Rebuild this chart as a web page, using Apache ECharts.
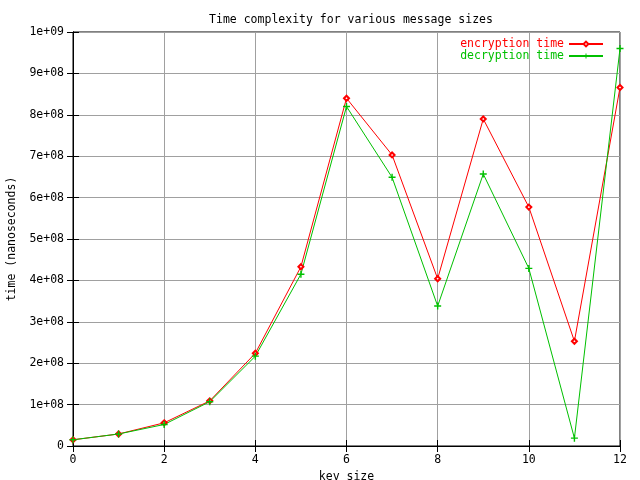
<!DOCTYPE html>
<html>
<head>
<meta charset="utf-8">
<script src="https://cdn.jsdelivr.net/npm/echarts@6/dist/echarts.min.js"></script>
<style>
  html, body { margin: 0; padding: 0; background: #fff; }
  #chart { width: 640px; height: 480px; }
</style>
</head>
<body>
<div id="chart"></div>
<script>
// ---- data ----
var keySizes       = [0, 1, 2, 3, 4, 5, 6, 7, 8, 9, 10, 11, 12];
var encryptionTime = [1.5e7, 2.9e7, 5.6e7, 1.09e8, 2.24e8, 4.33e8, 8.40e8, 7.03e8, 4.04e8, 7.90e8, 5.77e8, 2.53e8, 8.66e8];
var decryptionTime = [1.5e7, 2.9e7, 5.2e7, 1.07e8, 2.17e8, 4.15e8, 8.20e8, 6.49e8, 3.38e8, 6.57e8, 4.29e8, 1.9e7, 9.60e8];
var seriesNames    = ["encryption time", "decryption time"];

var FONT = "'DejaVu Sans Mono', monospace";
var PLUS = "path://M4,0h2v4h4v2h-4v4h-2v-4h-4v-2h4z";

function pairs(ys) {
  return keySizes.map(function (x, i) { return [x, ys[i]]; });
}

// gnuplot style tick labels: 0, 1e+08 ... 1e+09
function sciLabel(v) {
  if (v === 0) return "0";
  var e = Math.floor(Math.log10(v) + 1e-9);
  var m = Math.round(v / Math.pow(10, e));
  return m + "e+" + (e < 10 ? "0" + e : e);
}

var chart = echarts.init(document.getElementById("chart"));

var tickStyle = { show: true, inside: true, length: 6, lineStyle: { color: "#000" } };
var gridLine  = { show: true, lineStyle: { color: "#a0a0a0", width: 1 } };

chart.setOption({
  animation: false,
  backgroundColor: "#fff",
  title: {
    text: "Time complexity for various message sizes",
    left: 346, top: 9, textAlign: "center",
    textStyle: { fontFamily: FONT, fontSize: 11.5, fontWeight: "normal", color: "#000" }
  },
  legend: {
    orient: "vertical",
    right: 31, top: 33,
    align: "right",
    itemWidth: 34, itemHeight: 6, itemGap: 0,
    textStyle: { fontFamily: FONT, fontSize: 11.5, lineHeight: 11 },
    data: [
      { name: seriesNames[0], textStyle: { color: "#ff0000" } },
      { name: seriesNames[1], textStyle: { color: "#00c000" } }
    ]
  },
  grid: {
    left: 73, top: 32, width: 547, height: 414,
    outerBoundsMode: "none", containLabel: false,
    show: true, borderColor: "#000", borderWidth: 1
  },
  xAxis: [{
    type: "value", min: 0, max: 12, interval: 2,
    name: "key size", nameLocation: "middle", nameGap: 21,
    nameTextStyle: { fontFamily: FONT, fontSize: 11.5, color: "#000" },
    axisLine: { show: true, lineStyle: { color: "#000" } },
    axisTick: tickStyle,
    axisLabel: { fontFamily: FONT, fontSize: 11.5, color: "#000", margin: 8 },
    splitLine: gridLine
  }, {
    type: "value", min: 0, max: 12, interval: 2, position: "top",
    axisLine: { show: true, lineStyle: { color: "#000" } },
    axisTick: tickStyle, axisLabel: { show: false }, splitLine: { show: false }
  }],
  yAxis: [{
    type: "value", min: 0, max: 1e9, interval: 1e8,
    name: "time (nanoseconds)", nameLocation: "middle", nameGap: 54, nameRotate: 90,
    nameTextStyle: { fontFamily: FONT, fontSize: 11.5, color: "#000" },
    axisLine: { show: true, lineStyle: { color: "#000" } },
    axisTick: tickStyle,
    axisLabel: { fontFamily: FONT, fontSize: 11.5, color: "#000", margin: 9, formatter: sciLabel },
    splitLine: gridLine
  }, {
    type: "value", min: 0, max: 1e9, interval: 1e8, position: "right",
    axisLine: { show: true, lineStyle: { color: "#000" } },
    axisTick: tickStyle, axisLabel: { show: false }, splitLine: { show: false }
  }],
  series: [{
    name: seriesNames[0], type: "line",
    data: pairs(encryptionTime),
    symbol: "emptyDiamond", symbolSize: 5,
    lineStyle: { color: "#ff0000", width: 1 },
    itemStyle: { color: "#ff0000", borderColor: "#ff0000", borderWidth: 1 }
  }, {
    name: seriesNames[1], type: "line",
    data: pairs(decryptionTime),
    symbol: PLUS, symbolSize: 7,
    lineStyle: { color: "#00c000", width: 1 },
    itemStyle: { color: "#00c000" }
  }]
});
</script>
</body>
</html>
